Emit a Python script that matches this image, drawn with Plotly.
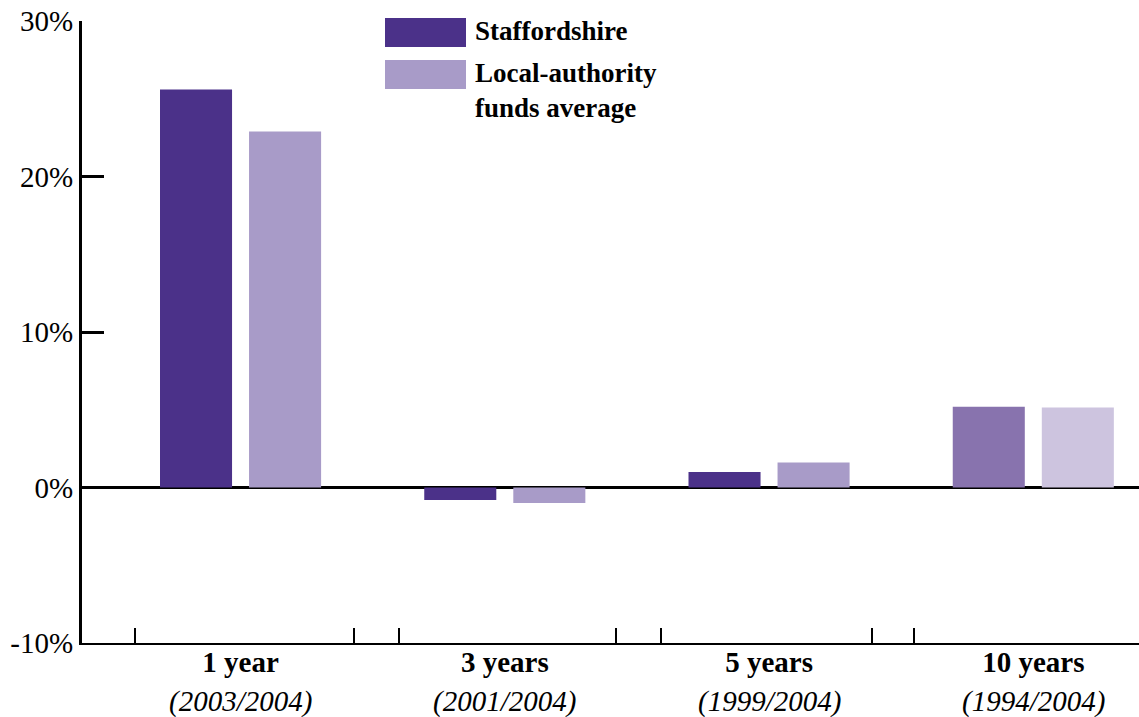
import plotly.graph_objects as go

# ---- data ----
periods = ["1 year", "3 years", "5 years", "10 years"]
spans = ["(2003/2004)", "(2001/2004)", "(1999/2004)", "(1994/2004)"]
series_names = ["Staffordshire", "Local-authority<br>funds average"]
staffordshire = [25.6, -0.8, 1.0, 5.2]
la_average = [22.9, -1.0, 1.6, 5.15]
y_ticks = [-10, 0, 10, 20, 30]
y_ticktext = ["-10%", "0%", "10%", "20%", "30%"]
sep_ticks = [-0.4, 0.43, 0.6, 1.42, 1.59, 2.39, 2.55]

# ---- styles ----
staff_colors = ["#4B3189", "#4B3189", "#4B3189", "#8873AE"]
avg_colors = ["#A89BC8", "#A89BC8", "#A89BC8", "#CDC4DF"]
FONT = "Liberation Serif"

W, H = 1139, 717
ML, MR, MT, MB = 82, 0, 21, 74
PW, PH = W - ML - MR, H - MT - MB

def px(x):
    return (x - ML) / PW

def py(y):
    return 1 - (y - MT) / PH

xs = list(range(len(periods)))

fig = go.Figure()
fig.add_trace(go.Bar(x=xs, y=staffordshire, name=series_names[0],
                     marker=dict(color=staff_colors, line=dict(width=0))))
fig.add_trace(go.Bar(x=xs, y=la_average, name=series_names[1],
                     marker=dict(color=avg_colors, line=dict(width=0))))

ticktext = [f"<b>{p}</b>" for p in periods]

fig.update_layout(
    width=W, height=H,
    margin=dict(l=ML, r=MR, t=MT, b=MB, pad=0, autoexpand=False),
    paper_bgcolor="white", plot_bgcolor="white",
    barmode="group", bargap=0.326, bargroupgap=0.191,
    showlegend=False,
    font=dict(family=FONT, color="black", size=28),
    xaxis=dict(
        range=[-0.6, 3.4], tickvals=xs, ticktext=ticktext,
        ticks="", showgrid=False, zeroline=False, automargin=False,
        showline=True, linecolor="black", linewidth=2,
        tickfont=dict(family=FONT, size=29, color="black"),
        ticklabelstandoff=-8,
        minor=dict(tickvals=sep_ticks, ticks="inside", ticklen=15,
                   tickwidth=1.5, tickcolor="black", showgrid=False),
    ),
    yaxis=dict(
        range=[-10, 30], tickvals=y_ticks, ticktext=y_ticktext,
        ticks="inside", ticklen=22, tickwidth=3, tickcolor="black",
        showgrid=False, showline=True, linecolor="black", linewidth=3,
        zeroline=True, zerolinecolor="black", zerolinewidth=3,
        automargin=False,
        tickfont=dict(family=FONT, size=29, color="black"),
        ticklabelstandoff=0,
    ),
)

# italic period spans under the category labels
for xv, s in zip(xs, spans):
    fig.add_annotation(xref="x", yref="paper", x=xv, y=py(701),
                       text=f"<i>{s}</i>", showarrow=False,
                       xanchor="center", yanchor="middle",
                       font=dict(family=FONT, size=29, color="black"))

# manual legend (large swatches)
legend_colors = [staff_colors[0], avg_colors[0]]
swatch_tops = [18, 60]
for name, col, top in zip(series_names, legend_colors, swatch_tops):
    fig.add_shape(type="rect", xref="paper", yref="paper",
                  x0=px(385), x1=px(466), y0=py(top + 29), y1=py(top),
                  fillcolor=col, line=dict(width=0))
    fig.add_annotation(xref="paper", yref="paper", x=px(473), y=py(top - 4),
                       text=f"<b>{name}</b>", showarrow=False,
                       xanchor="left", yanchor="top", align="left",
                       font=dict(family=FONT, size=27, color="black"))

fig.write_html("out.html", config={"displayModeBar": False},
               post_script="document.body.style.margin='0';")
